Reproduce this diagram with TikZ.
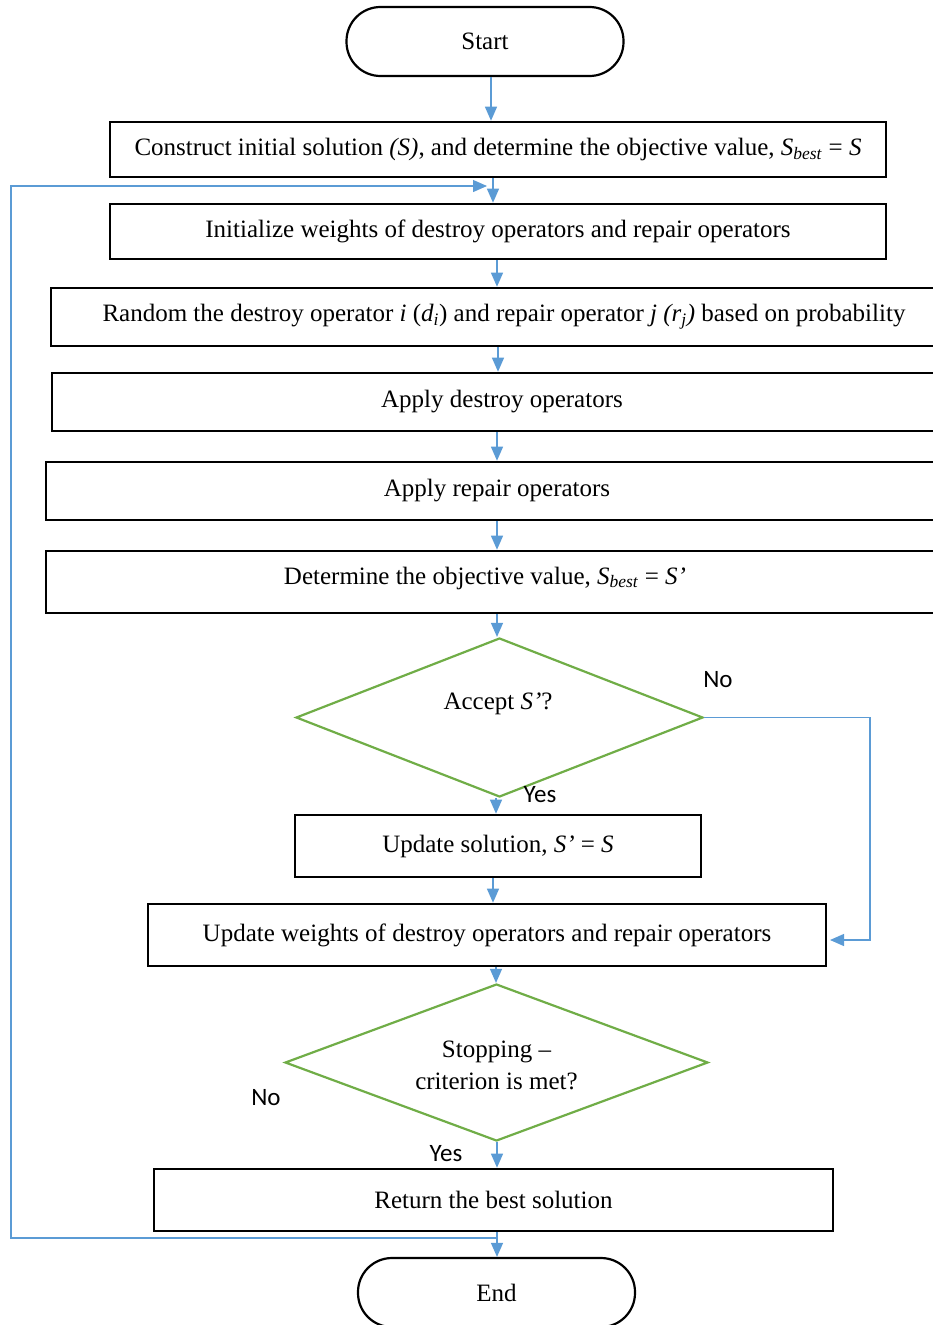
\documentclass[tikz,border=0pt]{standalone}
\usepackage{fontspec}
\setmainfont{Liberation Serif}
\newfontfamily\labfont{Carlito}
\usetikzlibrary{arrows.meta,shapes.geometric}
\definecolor{flowblue}{HTML}{5B9BD5}
\definecolor{decgreen}{HTML}{70AD47}
\begin{document}
\begin{tikzpicture}[x=1pt,y=-1pt,
  every node/.style={font=\fontsize{25}{29}\selectfont},
  stepbox/.style={draw=black, line width=2.6pt, inner sep=0pt},
  term/.style={draw=black, line width=2.2pt, rounded corners=34pt,
    minimum width=277pt, minimum height=69pt, inner sep=0pt},
  decision/.style={diamond, shape aspect=2.7, draw=decgreen, line width=2.2pt, inner sep=0pt},
  flow/.style={draw=flowblue, line width=1.2pt, -{Triangle[length=14pt,width=12pt]}},
  yn/.style={font=\labfont\fontsize{25}{29}\selectfont, inner sep=0pt},
]
\path[use as bounding box, clip] (0,0) rectangle (933,1325);

% terminals, process steps and decisions
\node[term] (start) at (485,41.5) {Start};
\node[stepbox, minimum width=776pt, minimum height=55pt] (init) at (498,149.5)
  {Construct initial solution \textit{(S)}, and determine the objective value, \textit{S}\textsubscript{\textit{best}} = \textit{S}};
\node[stepbox, minimum width=776pt, minimum height=55pt] (weights) at (498,231.5)
  {Initialize weights of destroy operators and repair operators};
\node[stepbox, minimum width=906pt, minimum height=58pt] (pick) at (504,317)
  {Random the destroy operator \textit{i} (\textit{d}\textsubscript{\textit{i}}) and repair operator \textit{j (r}\textsubscript{\textit{j}}\textit{)} based on probability};
\node[stepbox, minimum width=900pt, minimum height=58pt] (destroy) at (502,402)
  {Apply destroy operators};
\node[stepbox, minimum width=902pt, minimum height=58pt] (repair) at (497,491)
  {Apply repair operators};
\node[stepbox, minimum width=894pt, minimum height=62pt] (objective) at (493,582) {};
\node (objtext) at (485,578)
  {Determine the objective value, \textit{S}\textsubscript{\textit{best}} = \textit{S’}};
\node[decision, minimum width=407pt, minimum height=159pt] (accept) at (499.5,717.5) {};
\node (accepttext) at (498,704) {Accept \textit{S’}?};
\node[stepbox, minimum width=406pt, minimum height=62pt] (update) at (498,846)
  {Update solution, \textit{S’} = \textit{S}};
\node[stepbox, minimum width=678pt, minimum height=62pt] (reweight) at (487,935)
  {Update weights of destroy operators and repair operators};
\node[decision, minimum width=423pt, minimum height=157pt] (stop) at (496.5,1062.5) {};
\node[align=center] (stoptext) at (496.5,1065) {Stopping –\\[3pt]criterion is met?};
\node[stepbox, minimum width=679pt, minimum height=62pt] (best) at (493.5,1200)
  {Return the best solution};
\node[term] (finish) at (496.5,1292.5) {End};

% branch labels
\node[yn] (acceptno) at (718,680) {No};
\node[yn] (acceptyes) at (540,795) {Yes};
\node[yn] (stopno) at (266,1098) {No};
\node[yn] (stopyes) at (446,1154) {Yes};

% main flow
\draw[flow] (start.south -| 491,0) -- (init.north -| 491,0);
\draw[flow] (init.south -| 493,0) -- (weights.north -| 493,0);
\draw[flow] (weights.south -| 497,0) -- (pick.north -| 497,0);
\draw[flow] (pick.south -| 498,0) -- (destroy.north -| 498,0);
\draw[flow] (destroy.south -| 497,0) -- (repair.north -| 497,0);
\draw[flow] (repair.south -| 497,0) -- (objective.north -| 497,0);
\draw[flow] (objective.south -| 497,0) -- (accept.north -| 497,0);
\draw[flow] (accept.south -| 496,0) -- (update.north -| 496,0);
\draw[flow] (update.south -| 493,0) -- (reweight.north -| 493,0);
\draw[flow] (reweight.south -| 496,0) -- (stop.north -| 496,0);
\draw[flow] (stop.south -| 497,0) -- (best.north -| 497,0);
\draw[flow] (best.south -| 497,0) -- (finish.north -| 497,0);

% rejected candidate goes straight to the weight update
\coordinate (rejectin) at (830,940);
\draw[flow] (accept.east) -| (870,940) -- (rejectin);

% loop back to the weight initialisation
\coordinate (loopout) at (497,1238);
\coordinate (loopin) at (487,186);
\draw[flow] (loopout) -- (11,1238) |- (loopin);
\end{tikzpicture}
\end{document}
